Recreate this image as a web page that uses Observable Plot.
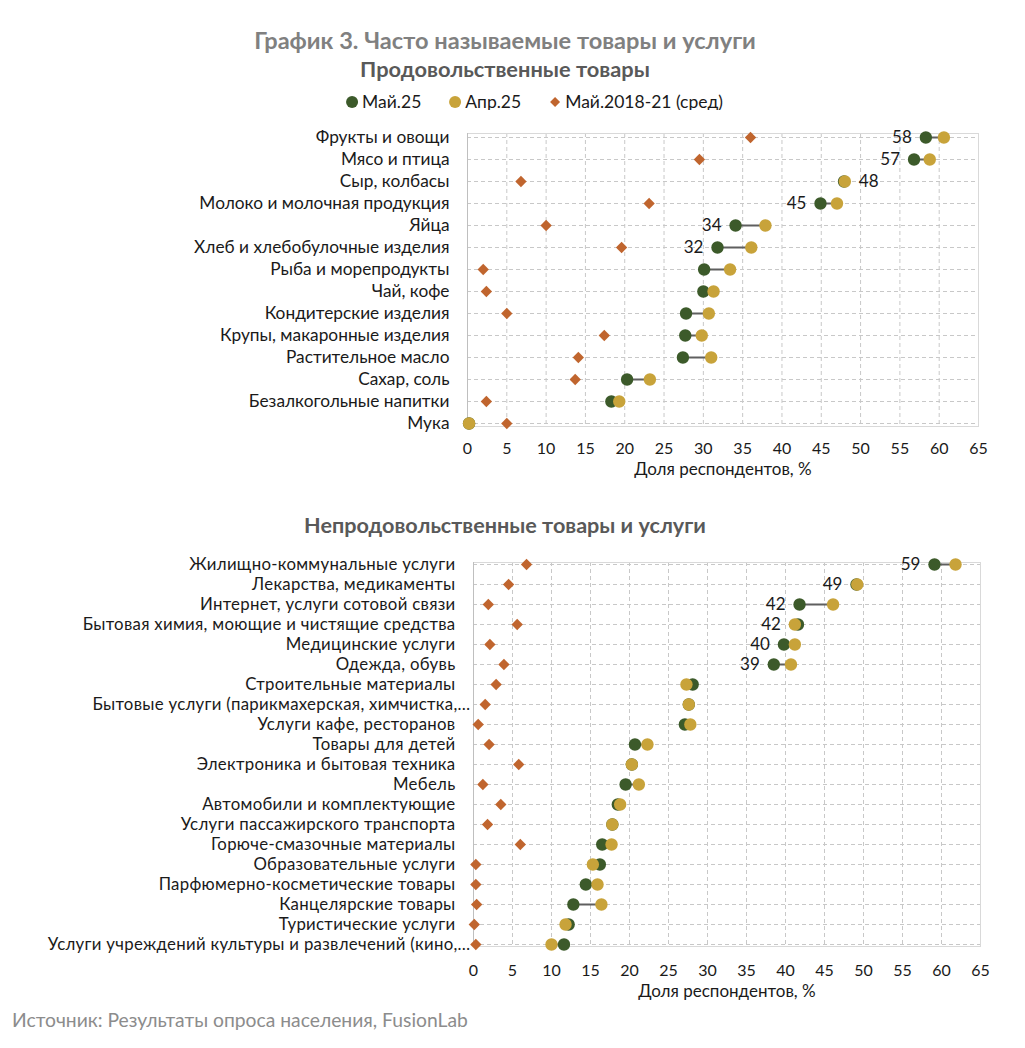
<!DOCTYPE html>
<html><head><meta charset="utf-8">
<script src="https://cdn.jsdelivr.net/npm/d3@7"></script>
<script src="https://cdn.jsdelivr.net/npm/@observablehq/plot@0.6"></script>
<style>
body{margin:0;background:#fff;font-family:Lato,"Open Sans",sans-serif;}
#wrap{position:relative;width:1025px;height:1048px;overflow:hidden;}
.t{position:absolute;white-space:nowrap;transform:translateX(-50%);line-height:24px;}
.abs{position:absolute;}
#legend{position:absolute;left:534px;top:90px;transform:translateX(-50%);display:flex;gap:27px;font-size:17.5px;color:#1a1a1a;line-height:24px;white-space:nowrap;}
#legend span{display:flex;align-items:center;gap:3px;}
#c2 g.ylab text{letter-spacing:0.3px;}
</style></head><body><div id="wrap">
<div class="t" style="left:505px;top:28px;font-size:23.6px;font-weight:700;color:#808080">График 3. Часто называемые товары и услуги</div>
<div class="t" style="left:505px;top:57px;font-size:21.8px;font-weight:700;color:#595959">Продовольственные товары</div>
<div id="legend"></div>
<div class="t" style="left:505px;top:513px;font-size:21.6px;font-weight:700;color:#595959">Непродовольственные товары и услуги</div>
<div class="abs" style="left:12px;top:1008px;font-size:19.3px;color:#8c8c8c;line-height:24px;white-space:nowrap">Источник: Результаты опроса населения, FusionLab</div>
<div class="abs" id="c1" style="left:0;top:110px"></div>
<div class="abs" id="c2" style="left:0;top:540px"></div>
</div>
<script>
const seriesNames = ["Май.25", "Апр.25", "Май.2018-21 (сред)"];
const colors = {may: "#3c5a2a", apr: "#c8a33a", avg: "#c0652e"};

const foodCats = ["Фрукты и овощи","Мясо и птица","Сыр, колбасы","Молоко и молочная продукция","Яйца","Хлеб и хлебобулочные изделия","Рыба и морепродукты","Чай, кофе","Кондитерские изделия","Крупы, макаронные изделия","Растительное масло","Сахар, соль","Безалкогольные напитки","Мука"];
const foodMay25 = [58.3, 56.8, 47.9, 44.9, 34.1, 31.8, 30.1, 30.0, 27.8, 27.7, 27.4, 20.3, 18.3, 0.2];
const foodApr25 = [60.6, 58.8, 48.0, 47.0, 37.9, 36.1, 33.4, 31.3, 30.7, 29.8, 31.0, 23.2, 19.3, 0.2];
const foodAvg1821 = [36.0, 29.5, 6.8, 23.1, 10.0, 19.6, 2.0, 2.4, 5.0, 17.4, 14.1, 13.7, 2.4, 5.0];
const foodLabelled = ["Фрукты и овощи","Мясо и птица","Сыр, колбасы","Молоко и молочная продукция","Яйца","Хлеб и хлебобулочные изделия"];
const foodLabelRight = ["Сыр, колбасы"];

const nonCats = ["Жилищно-коммунальные услуги","Лекарства, медикаменты","Интернет, услуги сотовой связи","Бытовая химия, моющие и чистящие средства","Медицинские услуги","Одежда, обувь","Строительные материалы","Бытовые услуги (парикмахерская, химчистка,…","Услуги кафе, ресторанов","Товары для детей","Электроника и бытовая техника","Мебель","Автомобили и комплектующие","Услуги пассажирского транспорта","Горюче-смазочные материалы","Образовательные услуги","Парфюмерно-косметические товары","Канцелярские товары","Туристические услуги","Услуги учреждений культуры и развлечений (кино,…"];
const nonMay25 = [59.1, 49.1, 41.8, 41.6, 39.8, 38.5, 28.1, 27.6, 27.1, 20.7, 20.3, 19.5, 18.5, 17.8, 16.5, 16.2, 14.4, 12.8, 12.2, 11.6];
const nonApr25 = [61.8, 49.2, 46.1, 41.2, 41.2, 40.7, 27.3, 27.6, 27.8, 22.3, 20.3, 21.2, 18.8, 17.8, 17.7, 15.3, 15.9, 16.4, 11.8, 10.0];
const nonAvg1821 = [6.8, 4.5, 1.9, 5.6, 2.1, 3.9, 2.9, 1.5, 0.6, 2.0, 5.8, 1.2, 3.5, 1.8, 6.0, 0.3, 0.3, 0.4, 0.1, 0.3];
const nonLabelled = ["Жилищно-коммунальные услуги","Лекарства, медикаменты","Интернет, услуги сотовой связи","Бытовая химия, моющие и чистящие средства","Медицинские услуги","Одежда, обувь"];
const nonLabelRight = [];

const xTicks = d3.range(0, 66, 5);
const axisTitle = "Доля респондентов, %";

// legend
const lg = document.getElementById("legend");
const sym = [
  `<svg width="14" height="14"><circle cx="7" cy="7" r="6" fill="${colors.may}"/></svg>`,
  `<svg width="14" height="14"><circle cx="7" cy="7" r="6" fill="${colors.apr}"/></svg>`,
  `<svg width="14" height="14"><path d="M7 2L12 7L7 12L2 7Z" fill="${colors.avg}"/></svg>`
];
seriesNames.forEach((n, i) => { lg.insertAdjacentHTML("beforeend", `<span>${sym[i]}${n}</span>`); });

function chart(cats, may, apr, avg, labelled, labelRight, o) {
  const rows = cats.map((c, i) => ({cat: c, may: may[i], apr: apr[i], avg: avg[i]}));
  const lab = rows.filter(d => labelled.includes(d.cat));
  const cut = c => c.endsWith("…");
  const font = "Lato, Open Sans, sans-serif";
  return Plot.plot({
    width: 1000, height: o.height,
    marginLeft: o.left, marginRight: 1000 - o.right, marginTop: o.top, marginBottom: o.bottom,
    style: {fontFamily: font, background: "white", overflow: "visible"},
    x: {domain: [0, 65], label: null},
    y: {type: "point", domain: cats, padding: 0, label: null, axis: null},
    marks: [
      Plot.gridX({ticks: d3.range(5, 65, 5), stroke: "#c8c8c8", strokeOpacity: 1, strokeDasharray: "4,3"}),
      Plot.gridY({stroke: "#c8c8c8", strokeOpacity: 1, strokeDasharray: "4,3"}),
      Plot.frame({stroke: "#d9d9d9"}),
      Plot.ruleX([0], {stroke: "#bfbfbf"}),
      Plot.axisX({ticks: xTicks, tickSize: 0, tickPadding: o.tickPad, fontSize: 16, fill: "#1a1a1a", label: null}),
      Plot.text(cats.filter(c => !cut(c)), {y: d => d, frameAnchor: "left", dx: -18, textAnchor: "end", fontSize: o.yFont, fill: "#1a1a1a", className: "ylab"}),
      Plot.text(cats.filter(cut), {y: d => d, frameAnchor: "left", dx: -3, textAnchor: "end", fontSize: o.yFont, fill: "#1a1a1a", className: "ylab"}),
      Plot.text([axisTitle], {frameAnchor: "bottom", lineAnchor: "middle", dy: o.titleDy, fontSize: 17, fill: "#1a1a1a"}),
      Plot.dot(rows, {x: "avg", y: "cat", symbol: "diamond2", r: 5.1, fill: colors.avg}),
      Plot.link(rows, {x1: "may", x2: "apr", y1: "cat", y2: "cat", stroke: "#5f5f5f", strokeWidth: 2}),
      Plot.dot(rows, {x: "may", y: "cat", r: 6.2, fill: colors.may}),
      Plot.dot(rows, {x: "apr", y: "cat", r: 6.2, fill: colors.apr}),
      Plot.text(lab.filter(d => !labelRight.includes(d.cat)), {x: d => Math.min(d.may, d.apr), y: "cat", text: d => String(Math.round(d.may)), dx: -14, textAnchor: "end", fontSize: 17, fill: "#1a1a1a"}),
      Plot.text(lab.filter(d => labelRight.includes(d.cat)), {x: d => Math.max(d.may, d.apr), y: "cat", text: d => String(Math.round(d.may)), dx: 14, textAnchor: "start", fontSize: 17, fill: "#1a1a1a"})
    ]
  });
}

document.getElementById("c1").append(chart(foodCats, foodMay25, foodApr25, foodAvg1821, foodLabelled, foodLabelRight,
  {height: 370, left: 467, right: 978, top: 23, bottom: 54, tickPad: 16, yFont: 17.3, titleDy: 43}));
document.getElementById("c2").append(chart(nonCats, nonMay25, nonApr25, nonAvg1821, nonLabelled, nonLabelRight,
  {height: 461, left: 473, right: 980, top: 22, bottom: 55, tickPad: 18, yFont: 16.8, titleDy: 45}));
</script>
</body></html>
